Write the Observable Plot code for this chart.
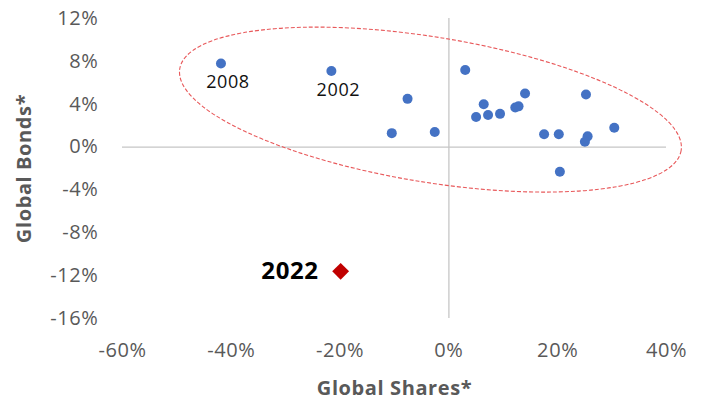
<!DOCTYPE html>
<html>
<head>
<meta charset="utf-8">
<script src="https://cdn.jsdelivr.net/npm/d3@7"></script>
<script src="https://cdn.jsdelivr.net/npm/@observablehq/plot@0.6"></script>
<style>
  html, body { margin: 0; padding: 0; background: #fff; }
  #chart { width: 703px; height: 402px; }
  #chart svg text { letter-spacing: 0.6px; }
</style>
</head>
<body>
<div id="chart"></div>
<script>
// Years (labels only where shown), global shares return (%), global bonds return (%)
const pointLabels = ["2008", "2002", "", "", "", "", "", "", "", "", "", "", "", "", "", "", "", "", "", ""];
const sharesReturn = [-41.9, -21.6, 3.0, -7.6, -10.5, -2.6, 6.4, 5.0, 7.2, 9.4, 12.2, 12.8, 14.0, 17.5, 20.2, 25.2, 25.5, 25.0, 30.4, 20.4];
const bondsReturn  = [7.8, 7.1, 7.2, 4.5, 1.3, 1.4, 4.0, 2.8, 3.0, 3.1, 3.7, 3.8, 5.0, 1.2, 1.2, 4.9, 1.0, 0.5, 1.8, -2.3];

const highlightLabel = ["2022"];
const highlightShares = [-19.9];
const highlightBonds = [-11.6];

const xTicks = [-60, -40, -20, 0, 20, 40];
const yTicks = [-16, -12, -8, -4, 0, 4, 8, 12];

const points = sharesReturn.map((x, i) => ({x, y: bondsReturn[i], label: pointLabels[i]}));
const highlight = highlightShares.map((x, i) => ({x, y: highlightBonds[i], label: highlightLabel[i]}));

// ellipse annotation: center in data units, semi-axes in px, tilt in degrees
const ellipseCenter = {x: -3.3, y: 3.45};
const ellipseShape = {a: 254, b: 72.6, angle: 9.26};

const fmt = d => d + "%";
const FONT = "'Open Sans', Lato, sans-serif";

const ellipseMark = (index, scales) => {
  const cx = scales.x(ellipseCenter.x), cy = scales.y(ellipseCenter.y);
  const e = d3.create("svg:ellipse")
    .attr("cx", 0).attr("cy", 0)
    .attr("rx", ellipseShape.a).attr("ry", ellipseShape.b)
    .attr("transform", `translate(${cx},${cy}) rotate(${ellipseShape.angle})`)
    .attr("fill", "none")
    .attr("stroke", "#e8585a")
    .attr("stroke-width", 1.1)
    .attr("stroke-dasharray", "4 2");
  return e.node();
};

const chart = Plot.plot({
  width: 703,
  height: 402,
  marginLeft: 122,
  marginRight: 37,
  marginTop: 18,
  marginBottom: 84,
  style: {fontFamily: FONT, fontSize: "20px", color: "#595959", background: "#fff"},
  x: {domain: [-60, 40]},
  y: {domain: [-16, 12]},
  marks: [
    Plot.axisX({ticks: xTicks, tickFormat: fmt, tickSize: 0, tickPadding: 24, label: null, fontSize: 20}),
    Plot.axisY({ticks: yTicks, tickFormat: fmt, tickSize: 0, tickPadding: 24, label: null, fontSize: 20}),
    Plot.ruleX([0], {stroke: "#c6c6c6", strokeWidth: 1.3}),
    Plot.ruleY([0], {stroke: "#c6c6c6", strokeWidth: 1.3}),
    ellipseMark,
    Plot.dot(points, {x: "x", y: "y", r: 5, fill: "#4472C4"}),
    Plot.text(points.filter(d => d.label), {x: "x", y: "y", text: "label", dy: 19, dx: 7, fontSize: 18, fill: "#111"}),
    Plot.dot(highlight, {x: "x", y: "y", r: 7.6, symbol: "diamond2", fill: "#C00000"}),
    Plot.text(highlight, {x: "x", y: "y", text: "label", dx: -22, textAnchor: "end", fontSize: 24, fontWeight: "bold", fill: "#000"}),
    Plot.text(["Global Shares*"], {frameAnchor: "bottom", dy: 70, lineAnchor: "middle", textAnchor: "middle", text: d => d, fontSize: 20, fontWeight: "bold", fill: "#595959"}),
    Plot.text(["Global Bonds*"], {frameAnchor: "left", dx: -98, rotate: -90, textAnchor: "middle", lineAnchor: "middle", text: d => d, fontSize: 20, fontWeight: "bold", fill: "#595959"})
  ]
});
document.getElementById("chart").append(chart);
</script>
</body>
</html>
